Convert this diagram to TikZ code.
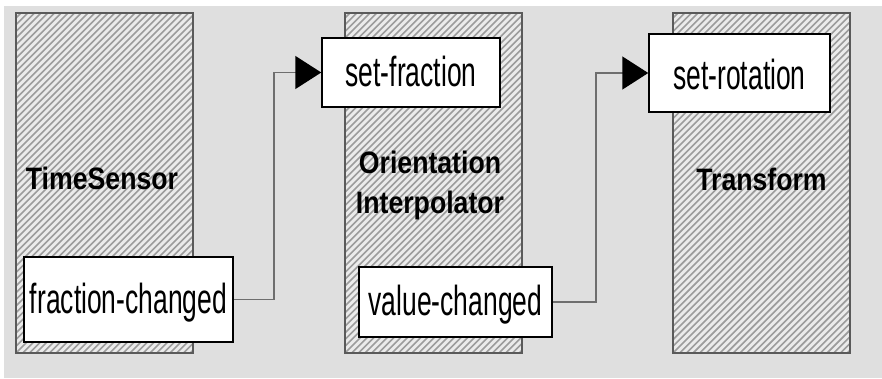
\documentclass[tikz,border=0pt]{standalone}
\usepackage{fontspec}
\newfontfamily\portfont{Liberation Sans}[FakeStretch=0.63]
\newfontfamily\namefont{Liberation Sans}[FakeStretch=0.86]
\usetikzlibrary{arrows.meta}
\definecolor{canvas}{HTML}{DFDFDF}
\definecolor{hatchbg}{HTML}{EBEBEB}
\definecolor{hatchink}{HTML}{9C9C9C}
\definecolor{boxedge}{HTML}{5A5A5A}
\definecolor{wiregray}{HTML}{6E6E6E}
\begin{document}
\begin{tikzpicture}[x=1pt,y=-1pt,
  hatchline/.style={draw=hatchink, line width=1.6pt},
  nodebox/.style={draw=boxedge, line width=2pt, fill=hatchbg,
    minimum width=177pt, minimum height=340pt, inner sep=0pt,
    path picture={\foreach \k in {-56,...,30}{
      \draw[hatchline] ([xshift={\k*6.7pt}]path picture bounding box.south west) -- ++(400pt,400pt);}}},
  boxlabel/.style={font=\namefont\bfseries\fontsize{31}{40}\selectfont, align=center, inner sep=0pt},
  portbox/.style={draw=black, line width=1.5pt, fill=white, inner sep=0pt,
    font=\portfont\fontsize{42}{44}\selectfont, text height=31pt, text depth=4pt},
  wire/.style={draw=wiregray, line width=1.5pt, -{Triangle[length=26pt,width=33pt,color=black]}}
]
\useasboundingbox (0,0) rectangle (882,378);
\fill[white] (0,0) rectangle (882,378);
\fill[canvas] (4,6) rectangle (882,378);

% event-processing nodes
\node[nodebox] (ts) at (104.5,183) {};
\node[nodebox] (oi) at (433.5,183) {};
\node[nodebox] (tf) at (761.5,183) {};

\node[boxlabel, anchor=base] (tsname) at (102,189) {TimeSensor};
\node[boxlabel] (oiname) at (430,185) {Orientation\\Interpolator};
\node[boxlabel, anchor=base] (tfname) at (761.5,190) {Transform};

% event ports
\node[portbox, minimum width=209pt, minimum height=85pt] (fc) at (128.5,299.5) {fraction-changed};
\node[portbox, minimum width=178pt, minimum height=69pt] (sf) at (411,72.5) {set-fraction};
\node[portbox, minimum width=193pt, minimum height=70pt] (vc) at (455.5,302) {value-changed};
\node[portbox, minimum width=181pt, minimum height=78pt, text height=33pt, text depth=0pt] (sr) at (739.5,73) {set-rotation};

% routes
\draw[wire] (fc.east) -- ++(40,0) |- (sf.west);
\draw[wire] (vc.east) -- ++(43,0) |- (sr.west);
\end{tikzpicture}
\end{document}
